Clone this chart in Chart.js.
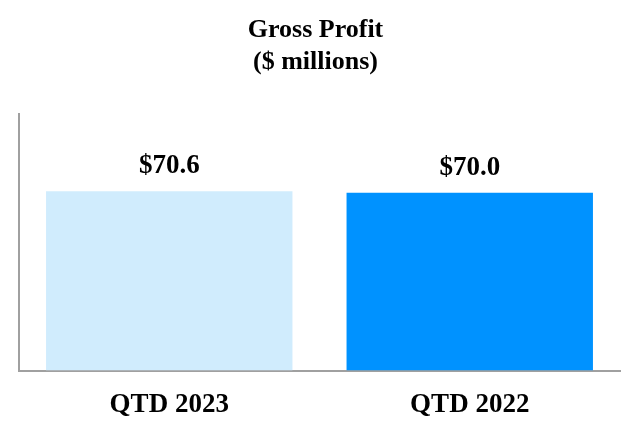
<!DOCTYPE html>
<html>
<head>
<meta charset="utf-8">
<script src="https://cdn.jsdelivr.net/npm/chart.js@4"></script>
<style>
html,body{margin:0;padding:0;background:#fff;}
#wrap{width:640px;height:440px;}
</style>
</head>
<body>
<div id="wrap"><canvas id="c" width="640" height="440"></canvas></div>
<script>
const categories = ['QTD 2023', 'QTD 2022'];
const grossProfit = [70.6, 70.0];
const valueLabels = ['$70.6', '$70.0'];
const barColors = ['#D0ECFD', '#0092FF'];

const serif = '"Liberation Serif", "Times New Roman", serif';

const valueLabelPlugin = {
  id: 'valueLabels',
  afterDatasetsDraw(chart) {
    const ctx = chart.ctx;
    const meta = chart.getDatasetMeta(0);
    ctx.save();
    ctx.font = 'bold 27px ' + serif;
    ctx.fillStyle = '#000';
    ctx.textAlign = 'center';
    ctx.textBaseline = 'alphabetic';
    meta.data.forEach((bar, i) => {
      ctx.fillText(valueLabels[i], bar.x, bar.y - 18);
    });
    ctx.restore();
  }
};

new Chart(document.getElementById('c'), {
  type: 'bar',
  data: {
    labels: categories,
    datasets: [{
      data: grossProfit,
      backgroundColor: barColors,
      borderWidth: 0,
      categoryPercentage: 1,
      barPercentage: 0.82
    }]
  },
  options: {
    responsive: false,
    animation: false,
    layout: { padding: { left: 11, right: 20, top: 0, bottom: 9 } },
    plugins: {
      legend: { display: false },
      tooltip: { enabled: false },
      title: {
        display: true,
        text: ['Gross Profit', '($ millions)'],
        color: '#000',
        font: { family: serif, size: 26, weight: 'bold', lineHeight: 1.23 },
        padding: { top: 14, bottom: 36 }
      }
    },
    scales: {
      y: {
        min: 0,
        max: 101,
        ticks: { display: false },
        grid: { display: false },
        border: { display: true, color: '#A0A0A0', width: 2 }
      },
      x: {
        grid: { display: false },
        border: { display: true, color: '#A0A0A0', width: 2 },
        ticks: {
          color: '#000',
          padding: 10,
          font: { family: serif, size: 27, weight: 'bold' }
        }
      }
    }
  },
  plugins: [valueLabelPlugin]
});
</script>
</body>
</html>
